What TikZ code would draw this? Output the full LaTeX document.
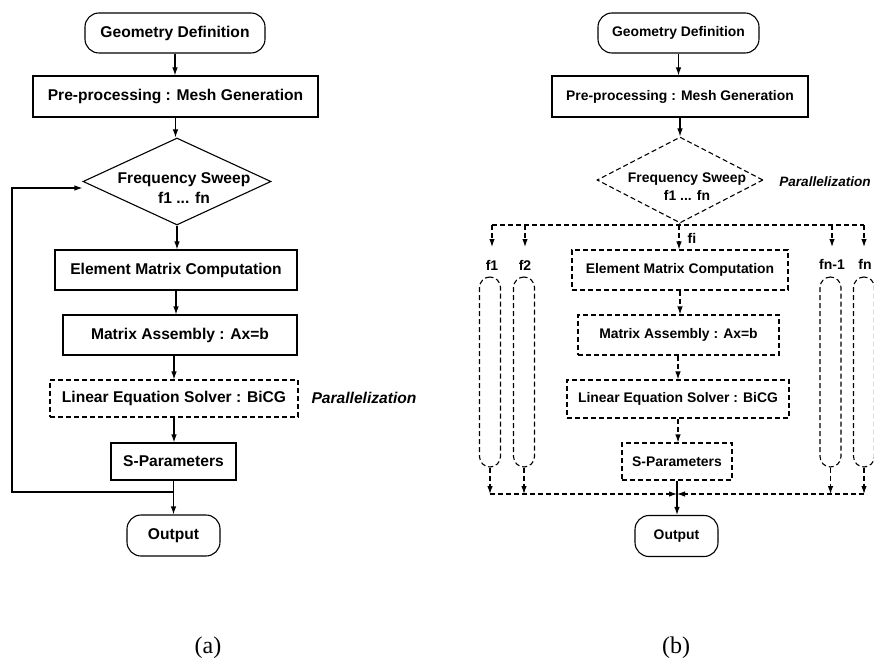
\documentclass[tikz,border=0pt]{standalone}
\usepackage{fontspec}
\setmainfont{Liberation Sans}
\newfontfamily\capfont{Liberation Serif}
\usetikzlibrary{arrows.meta,shapes.geometric,calc}
\begin{document}
\begin{tikzpicture}[x=1pt,y=-1pt,
 line width=1.1pt,
 arr/.style={-{Latex[length=8pt,width=5.5pt]}},
 dsh/.style={dash pattern=on 5pt off 3pt},
 fa/.style={font=\bfseries\fontsize{15.6}{20}\selectfont},
 fb/.style={font=\bfseries\fontsize{13.9}{18}\selectfont},
 fita/.style={font=\bfseries\itshape\fontsize{15.6}{20}\selectfont},
 fitb/.style={font=\bfseries\itshape\fontsize{13.6}{18}\selectfont},
 flab/.style={font=\bfseries\fontsize{14}{16}\selectfont, inner sep=1pt},
 boxx/.style={draw, rectangle, inner sep=0pt},
 term/.style={draw, rectangle, rounded corners=14pt, inner sep=0pt},
 dia/.style={draw, diamond, inner sep=0pt},
 capsule/.style={draw, dsh, rectangle, rounded corners=10.5pt, minimum width=21pt, minimum height=190pt, inner sep=0pt},
 lab/.style={font=\capfont\fontsize{24}{24}\selectfont}
]
\useasboundingbox (0,0) rectangle (874,660);

% ---------------- (a) ----------------
\node[term, fa, minimum width=180pt, minimum height=40pt] (geoA) at (175,33) {Geometry Definition};
\node[boxx, fa, minimum width=285pt, minimum height=41pt] (preA) at (175.5,96.5) {Pre-processing : Mesh Generation};
\node[dia, minimum width=188pt, minimum height=87pt] (swA) at (177,181.5) {};
\node[fa, align=center, inner sep=0pt] (swAt) at (184,188) {Frequency Sweep\\f1 ... fn};
\node[boxx, fa, minimum width=242pt, minimum height=40pt] (emA) at (176,270) {Element Matrix Computation};
\node[boxx, fa, minimum width=234pt, minimum height=40pt] (maA) at (180,335) {Matrix Assembly : Ax=b};
\node[boxx, dsh, fa, minimum width=248pt, minimum height=37pt] (lsA) at (174,398.5) {Linear Equation Solver : BiCG};
\node[fita] (parA) at (364,398) {Parallelization};
\node[boxx, fa, minimum width=125pt, minimum height=37pt] (spA) at (173.5,461.5) {S-Parameters};
\node[term, fa, minimum width=93pt, minimum height=41pt] (outA) at (173.5,535.5) {Output};
\node[lab] (capA) at (208,648) {(a)};

\draw[arr] (geoA.south) -- (geoA.south |- preA.north);
\draw[arr] (preA.south) -- (preA.south |- swA.north);
\draw[arr] (swA.south) -- (swA.south |- emA.north);
\draw[arr] (emA.south) -- (emA.south |- maA.north);
\draw[arr] (lsA.north |- maA.south) -- (lsA.north);
\draw[arr] (lsA.south) -- (lsA.south |- spA.north);
\draw[arr] (spA.south) -- (outA.north);
\coordinate (jA) at (173.5,492);
\coordinate (lpA) at (12,188);
\draw[arr] (jA) -| (lpA) -- (lpA -| swA.west);

% ---------------- (b) ----------------
\node[term, fb, minimum width=161pt, minimum height=40pt] (geoB) at (678.5,33) {Geometry Definition};
\node[boxx, fb, minimum width=256pt, minimum height=41pt] (preB) at (680,96.5) {Pre-processing : Mesh Generation};
\node[dia, dsh, minimum width=166pt, minimum height=86pt] (swB) at (680,180) {};
\node[fb, align=center, inner sep=0pt] (swBt) at (687,187) {Frequency Sweep\\f1 ... fn};
\node[fitb] (parB) at (825,182) {Parallelization};

\node[boxx, dsh, fb, minimum width=216pt, minimum height=40pt] (emB) at (680,270) {Element Matrix Computation};
\node[boxx, dsh, fb, minimum width=201pt, minimum height=40pt] (maB) at (678.5,335) {Matrix Assembly : Ax=b};
\node[boxx, dsh, fb, minimum width=222pt, minimum height=38pt] (lsB) at (678,399) {Linear Equation Solver : BiCG};
\node[boxx, dsh, fb, minimum width=110pt, minimum height=37pt] (spB) at (677,461.5) {S-Parameters};
\node[term, fb, minimum width=83pt, minimum height=41pt] (outB) at (676.5,536) {Output};
\node[lab] (capB) at (676,648) {(b)};

\draw[arr] (geoB.south) -- (geoB.south |- preB.north);
\draw[arr] (preB.south) -- (preB.south |- swB.north);

% top distribution bus
\coordinate (tb1) at (492,225);
\coordinate (tb2) at (525,225);
\coordinate (tbi) at (679,225);
\coordinate (tb3) at (832,225);
\coordinate (tb4) at (864,225);
\draw[dsh] (tb1) -- (tb4);
\draw (swB.south) -- (tbi);

\node[flab] (l1) at (492,265) {f1};
\node[flab] (l2) at (525,265) {f2};
\node[flab] (li) at (692,238) {fi};
\node[flab] (l3) at (832,264) {fn-1};
\node[flab] (l4) at (865,264) {fn};

\draw[dsh,arr] (tb1) -- ++(0,22);
\draw[dsh,arr] (tb2) -- ++(0,22);
\draw[dsh,arr] (tb3) -- ++(0,22);
\draw[dsh,arr] (tb4) -- ++(0,22);
\draw[dsh,arr] (tbi) -- (tbi |- emB.north);

% capsules
\node[capsule] (c1) at (490,372) {};
\node[capsule] (c2) at (524,372) {};
\node[capsule] (c3) at (830.5,372) {};
\node[capsule] (c4) at (864,372) {};

% bottom collecting bus
\coordinate (bbL) at (490,494);
\coordinate (bbC) at (677,494);
\coordinate (bbR) at (864,494);
\draw[dsh,arr] (c1.south) -- (c1.south |- bbL);
\draw[dsh,arr] (c2.south) -- (c2.south |- bbL);
\draw[dsh,arr] (c3.south) -- (c3.south |- bbL);
\draw[dsh,arr] (c4.south) -- (c4.south |- bbL);
\draw[dsh,arr] (bbL) -- (bbC);
\draw[dsh,arr] (bbR) -- (bbC);

\draw[dsh,arr] (emB.south) -- (emB.south |- maB.north);
\draw[dsh,arr] (lsB.north |- maB.south) -- (lsB.north);
\draw[dsh,arr] (lsB.south) -- (lsB.south |- spB.north);
\draw[arr] (spB.south) -- (spB.south |- outB.north);
\end{tikzpicture}
\end{document}
